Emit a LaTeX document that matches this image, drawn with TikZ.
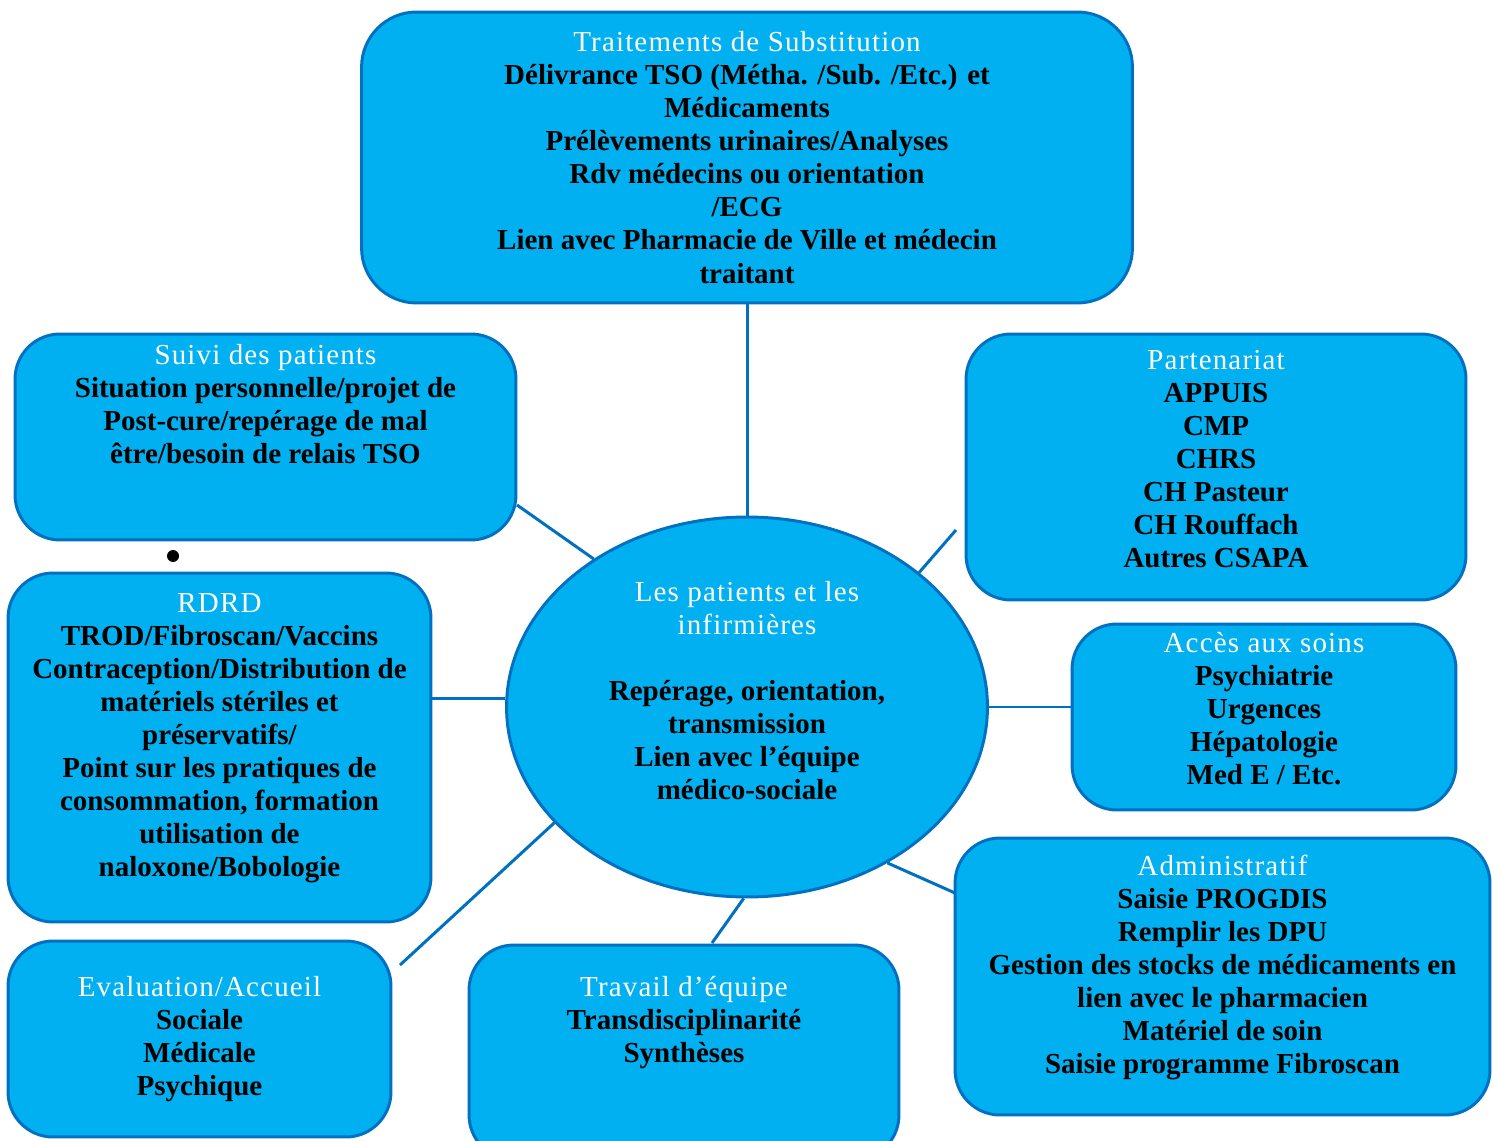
\documentclass[tikz,border=0pt]{standalone}
\usepackage{fontspec}
\setmainfont{Liberation Serif}
\newfontfamily\titrefont[LetterSpace=4]{Liberation Serif}
\usepackage{tikz}
\usetikzlibrary{shapes.geometric}

\definecolor{bleuciel}{HTML}{00B0F0}
\definecolor{bleutrait}{HTML}{0070C0}

\newcommand{\titre}[1]{{\color{white}\titrefont\mdseries #1}}

\tikzset{
    boite/.style={draw=bleutrait, fill=bleuciel, line width=1.7pt,
        rounded corners=0.9cm, align=center, inner sep=0pt,
        font=\fontsize{16.5}{18.8}\selectfont\bfseries},
    noyau/.style={boite, ellipse, rounded corners=0pt},
    lien/.style={bleutrait, line width=1.7pt}
}

\begin{document}
\begin{tikzpicture}[x=0.02cm, y=-0.02cm]
    % Page
    \useasboundingbox (0,0) rectangle (1496,1141);
    \clip (0,0) rectangle (1496,1141);

    % Central ellipse
    \node[noyau, minimum width=9.62cm, minimum height=7.6cm] (core) at (747,707)
        {\titre{Les patients et les}\\\titre{infirmières}\\~\\
         Repérage, orientation,\\transmission\\Lien avec l’équipe\\médico-sociale\\~};

    % Boxes around it
    \node[boite, rounded corners=1.1cm, minimum width=15.42cm, minimum height=5.82cm] (top) at (747,157.5)
        {\titre{Traitements de Substitution}\\
         Délivrance TSO (Métha. /Sub. /Etc.) et\\Médicaments\\
         Prélèvements urinaires/Analyses\\Rdv médecins ou orientation\\/ECG\\
         Lien avec Pharmacie de Ville et médecin\\traitant};
    \node[boite, minimum width=10.02cm, minimum height=4.12cm] (suivi) at (265.5,437)
        {\titre{Suivi des patients}\\Situation personnelle/projet de\\
         Post-cure/repérage de mal\\être/besoin de relais TSO\\~\\~};
    \node[boite, minimum width=8.46cm, minimum height=6.98cm] (rdrd) at (219.5,747.5)
        {\titre{RDRD}\\TROD/Fibroscan/Vaccins\\Contraception/Distribution de\\
         matériels stériles et\\préservatifs/\\Point sur les pratiques de\\
         consommation, formation\\utilisation de\\naloxone/Bobologie\\[-5pt]~};
    \node[boite, minimum width=7.66cm, minimum height=3.92cm] (eval) at (199.5,1039)
        {\titre{Evaluation/Accueil}\\Sociale\\Médicale\\Psychique};
    \node[boite, minimum width=8.6cm, minimum height=4.3cm] (travail) at (684,1052.5)
        {\titre{Travail d’équipe}\\Transdisciplinarité\\Synthèses\\~\\~};
    \node[boite, minimum width=10.7cm, minimum height=5.54cm] (admin) at (1222.5,976.5)
        {\titre{Administratif}\\Saisie PROGDIS\\Remplir les DPU\\
         Gestion des stocks de médicaments en\\lien avec le pharmacien\\
         Matériel de soin\\Saisie programme Fibroscan\\[-5pt]~};
    \node[boite, minimum width=7.68cm, minimum height=3.72cm] (acces) at (1264,717)
        {\titre{Accès aux soins}\\Psychiatrie\\Urgences\\Hépatologie\\Med E / Etc.\\[-9.4pt]~};
    \node[boite, minimum width=10cm, minimum height=5.32cm] (part) at (1216,467)
        {\titre{Partenariat}\\APPUIS\\CMP\\CHRS\\CH Pasteur\\CH Rouffach\\Autres CSAPA\\[-9.4pt]~};

    % Free ends of the links
    \coordinate (suiviE) at (517,505);
    \coordinate (partW) at (956,530);
    \coordinate (adminW) at (955,893);
    \coordinate (travailN) at (712,943);
    \coordinate (evalE) at (400,965);

    % Links
    \draw[lien] (top.south) -- (core.north);
    \draw[lien] (suiviE) -- (core.136);
    \draw[lien] (core.38) -- (partW);
    \draw[lien] (core.east) -- (core.east -| acces.west);
    \draw[lien] (core.-48) -- (adminW);
    \draw[lien] (core.-91) -- (travailN);
    \draw[lien] (core.211) -- (evalE);
    \draw[lien] (core.178) -- (core.178 -| rdrd.east);

    % Stray bullet
    \fill (173,556) circle (6);
\end{tikzpicture}
\end{document}
